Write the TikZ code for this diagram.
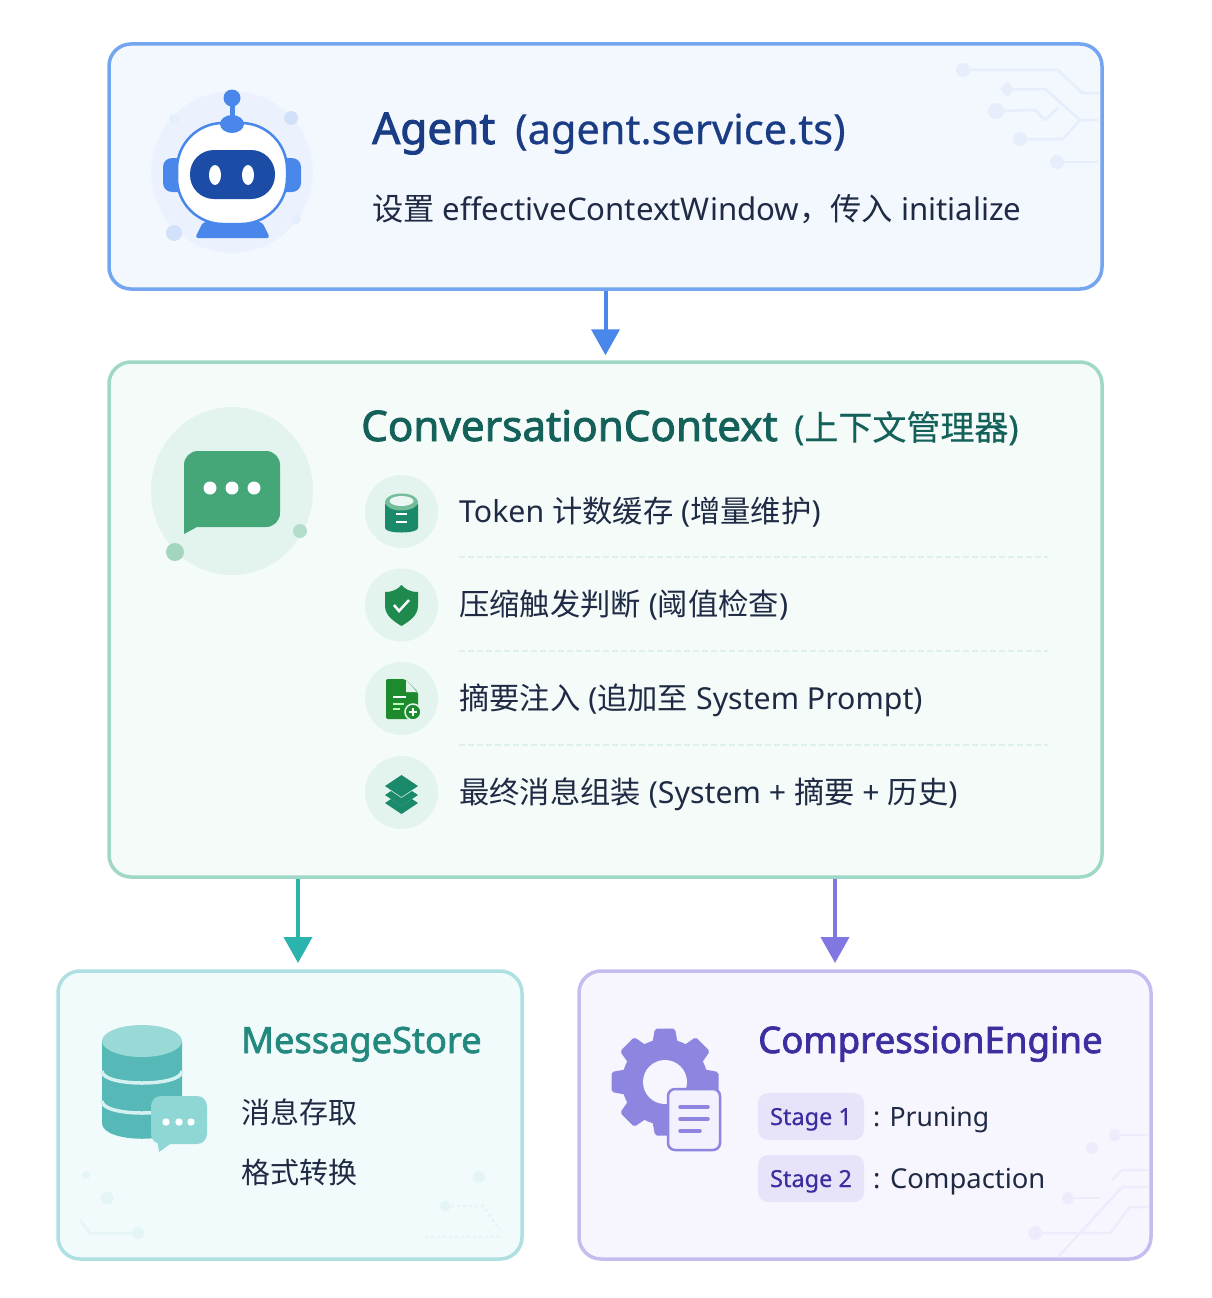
\documentclass[tikz,border=0pt]{standalone}
\usepackage{fontspec}
\setmainfont{Noto Sans}
\newfontfamily\cjk{Noto Sans CJK SC}
\newfontfamily\heavy[FakeBold=2]{Noto Sans}
\newfontfamily\semi[FakeBold=0.5]{Noto Sans}
\newfontfamily\semicjk[FakeBold=0.3]{Noto Sans CJK SC}
\newcommand{\fs}[1]{\fontsize{#1}{#1}\selectfont}
\definecolor{agentline}{HTML}{74A5F1}
\definecolor{agentfill}{HTML}{F3F7FE}
\definecolor{agentblue}{HTML}{4A87EA}
\definecolor{agentdark}{HTML}{1A3C85}
\definecolor{agentface}{HTML}{1D4CA6}
\definecolor{agenthalo}{HTML}{ECF2FD}
\definecolor{agenttrace}{HTML}{E6EEFC}
\definecolor{ctxline}{HTML}{9FD8C7}
\definecolor{ctxfill}{HTML}{F5FBF9}
\definecolor{ctxhalo}{HTML}{E3F4EE}
\definecolor{ctxgreen}{HTML}{45A678}
\definecolor{ctxdark}{HTML}{14615A}
\definecolor{ctxrule}{HTML}{DDF0EA}
\definecolor{rowteal}{HTML}{1B8A6B}
\definecolor{rowgreen}{HTML}{1F8A4D}
\definecolor{rowleaf}{HTML}{1E8A2E}
\definecolor{storeline}{HTML}{AEE0E2}
\definecolor{storefill}{HTML}{F2FBFC}
\definecolor{storeteal}{HTML}{2BB3AE}
\definecolor{storebody}{HTML}{57B8B8}
\definecolor{storetop}{HTML}{9ADAD6}
\definecolor{storedark}{HTML}{23897F}
\definecolor{storetrace}{HTML}{E4F5F6}
\definecolor{compline}{HTML}{C3BDF0}
\definecolor{compfill}{HTML}{F7F6FE}
\definecolor{compgear}{HTML}{8E85E0}
\definecolor{comparrow}{HTML}{8077E0}
\definecolor{compdark}{HTML}{3B2FA0}
\definecolor{comppill}{HTML}{E7E4FA}
\definecolor{comptrace}{HTML}{EEECFC}
\definecolor{bodytext}{HTML}{1F2A44}
\tikzset{
  card/.style={draw, line width=3.5pt, rounded corners=22pt, inner sep=0pt},
  flow/.style={line width=4pt, -{Triangle[length=26pt,width=28pt]}, shorten >=8pt},
  trace/.style={line width=2.5pt, line join=round},
  label/.style={anchor=base west, inner sep=0pt, text=bodytext},
  pill/.style={fill=comppill, rounded corners=10pt, minimum width=106pt, minimum height=47pt, inner sep=0pt, text=compdark, text height=17pt, text depth=0pt, font=\fs{23.5}\semi},
  round dot/.style={circle, fill=ctxhalo, minimum size=73pt, inner sep=0pt}
}
\usetikzlibrary{arrows.meta}
\begin{document}
\begin{tikzpicture}[x=1pt,y=-1pt]
\useasboundingbox (0,0) rectangle (1212,1298);
\fill[white!99!ctxfill] (0,0) rectangle (1212,1298);
% Cards
\node[card, draw=agentline, fill=agentfill, minimum width=993pt, minimum height=245pt] (agent) at (605.5,166.5) {};
\node[card, draw=ctxline, fill=ctxfill, minimum width=993pt, minimum height=515pt] (ctx) at (605.5,619.5) {};
\node[card, draw=storeline, fill=storefill, minimum width=464pt, minimum height=288pt] (store) at (290,1115) {};
\node[card, draw=compline, fill=compfill, minimum width=572pt, minimum height=288pt] (comp) at (865,1115) {};
% Arrows
\coordinate (storein) at (298,971);
\coordinate (compin) at (835,971);
\draw[flow, agentblue, shorten >=5pt] (agent.south) -- (ctx.north);
\draw[flow, storeteal] (storein |- ctx.south) -- (storein);
\draw[flow, comparrow] (compin |- ctx.south) -- (compin);
% Circuit traces, agent
\foreach \x/\y/\r in {963/70/7, 996/111/8, 1020/139/7, 1057/162/7}
  \fill[agenttrace] (\x,\y) circle (\r);
\fill[agenttrace] (1007,81) -- (1014,89) -- (1007,97) -- (1000,89) -- cycle;
\draw[trace, agenttrace] (963,70) -- (1058,70) -- (1082,93) -- (1098,93);
\draw[trace, agenttrace] (1007,89) -- (1045,89) -- (1080,120);
\draw[trace, agenttrace] (996,111) -- (1035,110) -- (1045,120) -- (1058,108);
\draw[trace, agenttrace] (1020,139) -- (1063,139) -- (1080,120) -- (1098,120);
\draw[trace, agenttrace] (1057,162) -- (1098,162);
% Robot
\fill[agenthalo] (232,172) circle (81);
\foreach \x/\y/\r/\c in {174/233/8/20, 291/118/7/20, 174/119/5/8, 296/219/5/8}
  \fill[agentblue!\c!agentfill] (\x,\y) circle (\r);
\fill[agentblue] (232,98) circle (8.5);
\fill[agentblue] (229.5,100) rectangle (234.5,122);
\fill[agentblue, rounded corners=9pt] (163,158) rectangle (190,192);
\fill[agentblue, rounded corners=9pt] (274,158) rectangle (301,192);
\fill[agentblue, rounded corners=3pt] (195,238) -- (270,238) -- (262,222) -- (203,222) -- cycle;
\draw[agentblue, line width=2.5pt, fill=white, rounded corners=46pt] (177,123) rectangle (287,224);
\fill[agentblue] (232,124) ellipse [x radius=12, y radius=9];
\fill[agentface, rounded corners=24pt] (190,150) rectangle (275,199);
\fill[white] (215,175) ellipse [x radius=6, y radius=10];
\fill[white] (248,175) ellipse [x radius=6, y radius=10];
% Agent text
\node[label, text=agentdark, font=\fs{44}\heavy] (agentname) at (372,144) {Agent};
\node[label, text=agentdark, font=\fs{41.5}\semi] (agentfile) at (515,144) {(agent.service.ts)};
\node[label, font=\fs{31.2}] (agentnote) at (372,220) {{\cjk 设置} effectiveContextWindow{\cjk ，传入} initialize};
% Context icon
\fill[ctxhalo] (232,491) ellipse [x radius=81, y radius=84];
\fill[ctxgreen!40!ctxhalo] (175,552) circle (9);
\fill[ctxgreen!30!ctxhalo] (300,531) circle (7);
\fill[ctxgreen, rounded corners=14pt] (184,451) rectangle (280,527);
\fill[ctxgreen] (184,505) -- (184,534) -- (197,527) -- (197,505) -- cycle;
\foreach \x in {210,232,254}
  \fill[white] (\x,488) circle (6.5);
% Context text
\node[label, text=ctxdark, font=\fs{42.2}\heavy] (ctxname) at (361,441) {ConversationContext};
\node[label, text=ctxdark, font=\fs{34}\semi] (ctxnote) at (794,440) {({\semicjk 上下文管理器})};
% Rows
\foreach \y/\t/\n in {511.5/{Token {\cjk 计数缓存} ({\cjk 增量维护})}/one, 605/{{\cjk 压缩触发判断}~({\cjk 阈值检查})}/two, 698.5/{{\cjk 摘要注入} ({\cjk 追加至} System Prompt)}/three, 792.5/{{\cjk 最终消息组装} (System + {\cjk 摘要} + {\cjk 历史})}/four} {
  \node[round dot] (dot\n) at (401.5,\y) {};
  \node[label, font=\fs{30.3}] (row\n) at (459,\y+10.5) {\t};
}
\foreach \y in {557,651,745}
  \draw[ctxrule, line width=1.5pt, dash pattern=on 6pt off 3pt] (459,\y) -- (1048,\y);
% Row icon: cylinder
\fill[rowteal, rounded corners=3pt] (385,502) -- (385,525) .. controls (385,534) and (418,534) .. (418,525) -- (418,502) -- cycle;
\fill[ctxgreen!70!ctxhalo] (401.5,502) ellipse [x radius=16.5, y radius=8.5];
\fill[ctxhalo!70!white] (401.5,501) ellipse [x radius=12, y radius=5];
\draw[white, line width=2pt] (396,514) -- (407,514) (396,522) -- (407,522);
% Row icon: shield
\fill[rowgreen] (385,592) -- (385,606) .. controls (385,616) and (395,622) .. (401.5,626) .. controls (408,622) and (418,616) .. (418,606) -- (418,592) .. controls (410,592) and (405,589) .. (401.5,585) .. controls (398,589) and (393,592) .. (385,592) -- cycle;
\draw[white, line width=2.5pt] (394,605) -- (399,611) -- (409,600);
% Row icon: document
\fill[rowleaf, rounded corners=2pt] (386,679) -- (405,679) -- (418,692) -- (418,719) -- (386,719) -- cycle;
\fill[ctxhalo] (406,680) -- (417,692) -- (406,692) -- cycle;
\draw[white, line width=2pt] (393,697) -- (406,697);
\draw[white!70!green, line width=1.5pt] (393,704) -- (404,704) (393,709) -- (400,709);
\draw[ctxhalo, line width=1.5pt, fill=rowleaf] (413,712) circle (8);
\draw[white, line width=1.5pt] (409,712) -- (417,712) (413,708) -- (413,716);
% Row icon: layers
\fill[rowteal] (401.5,775) -- (418,786) -- (401.5,797) -- (385,786) -- cycle;
\foreach \d in {0,8}
  \fill[rowteal, yshift=-\d pt] (385,795) -- (391,791) -- (401.5,798) -- (412,791) -- (418,795) -- (401.5,806) -- cycle;
% Store icon
\fill[storebody] (102,1041) -- (102,1123) .. controls (102,1144) and (182,1144) .. (182,1123) -- (182,1041) -- cycle;
\fill[storetop] (142,1041) ellipse [x radius=40, y radius=16];
\foreach \y in {1071,1101}
  \draw[storefill!85!storeteal, line width=3.5pt] (102,\y) .. controls (102,\y+16) and (182,\y+16) .. (182,\y);
\fill[storeteal!50!storefill, rounded corners=10pt] (151,1096) rectangle (207,1144);
\fill[storeteal!50!storefill] (157,1138) -- (159,1152) -- (173,1142) -- cycle;
\foreach \x in {166,179,191}
  \fill[white] (\x,1122) circle (3.7);
% Store traces
\foreach \x/\y/\r in {86/1175/4, 107/1198/6.5, 138/1233/6, 479/1177/6, 445/1206/5.5}
  \fill[storetrace] (\x,\y) circle (\r);
\draw[trace, storetrace] (80,1220) -- (90,1233) -- (138,1233);
\draw[trace, storetrace, dashed] (445,1206) -- (483,1206) -- (500,1230);
\draw[trace, storetrace, dashed] (425,1237) -- (500,1237);
% Store text
\node[label, text=storedark, font=\fs{36.2}\heavy] (storename) at (241,1053) {MessageStore};
\node[label, font=\fs{29}\cjk] (storeone) at (241,1123) {消息存取};
\node[label, font=\fs{29}\cjk] (storetwo) at (241,1183) {格式转换};
% Gear
\fill[compgear] (665,1082) circle (43);
\foreach \a in {0,45,...,315}
  \fill[compgear, rounded corners=2pt, rotate around={\a:(665,1082)}] (652,1045) -- (655,1028.5) -- (675,1028.5) -- (678,1045) -- cycle;
\fill[compfill] (665,1082) circle (22);
\draw[compgear, line width=2.5pt, fill=compfill!70!comppill, rounded corners=7pt] (668,1089) rectangle (720,1150);
\draw[compgear, line width=3.5pt, line cap=round] (680,1107) -- (708,1107) (680,1119) -- (708,1119) (680,1131) -- (700,1131);
% Comp traces
\foreach \x/\y/\r in {1115/1135/6, 1092/1148/6, 1068/1198/6, 1035/1233/7}
  \fill[comptrace] (\x,\y) circle (\r);
\draw[trace, comptrace] (1115,1135) -- (1148,1135);
\draw[trace, comptrace] (1112,1180) -- (1122,1170) -- (1148,1170);
\draw[trace, comptrace] (1068,1198) -- (1100,1198);
\draw[trace, comptrace] (1035,1233) -- (1110,1233) -- (1130,1207) -- (1148,1207);
\draw[trace, comptrace] (1058,1257) -- (1122,1187) -- (1148,1187);
% Comp text
\node[label, text=compdark, font=\fs{36.6}\heavy] (compname) at (758,1053) {CompressionEngine};
\node[pill] (stageone) at (811,1116.5) {Stage 1};
\node[pill] (stagetwo) at (811,1178.5) {Stage 2};
\node[label, font=\fs{26.6}] (prune) at (873,1126) {: Pruning};
\node[label, font=\fs{27.4}] (compact) at (873,1188) {: Compaction};
\end{tikzpicture}
\end{document}
